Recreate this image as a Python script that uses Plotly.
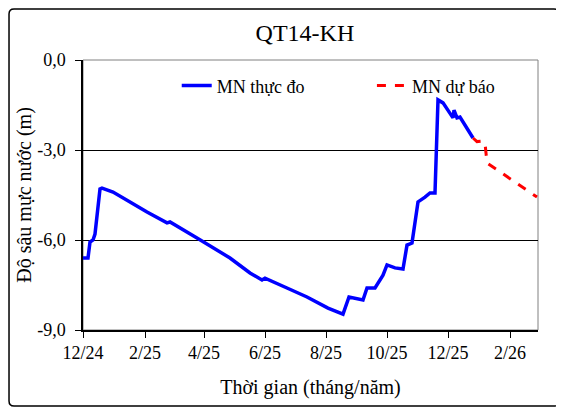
import plotly.graph_objects as go

# measured groundwater depth (m)
obs_dates = [
    "2024-12-01", "2024-12-06", "2024-12-08", "2024-12-11", "2024-12-13",
    "2024-12-16", "2024-12-18", "2024-12-20", "2024-12-31", "2025-01-17",
    "2025-02-03", "2025-02-23", "2025-02-26", "2025-03-25", "2025-04-27",
    "2025-05-17", "2025-05-29", "2025-06-01", "2025-06-09", "2025-06-23",
    "2025-07-13", "2025-08-03", "2025-08-18", "2025-08-24", "2025-09-07",
    "2025-09-11", "2025-09-19", "2025-09-27", "2025-10-01", "2025-10-09",
    "2025-10-17", "2025-10-21", "2025-10-26", "2025-10-29", "2025-11-01",
    "2025-11-08", "2025-11-13", "2025-11-18", "2025-11-21", "2025-11-26",
    "2025-12-06", "2025-12-07", "2025-12-10", "2025-12-13", "2025-12-26",
]
obs_values = [
    -6.6, -6.6, -6.07, -6.0, -5.8,
    -4.9, -4.3, -4.27, -4.4, -4.73,
    -5.07, -5.43, -5.4, -5.93, -6.6,
    -7.1, -7.33, -7.27, -7.4, -7.6,
    -7.9, -8.27, -8.47, -7.9, -8.0,
    -7.6, -7.6, -7.17, -6.83, -6.93,
    -6.97, -6.17, -6.1, -5.4, -4.73,
    -4.57, -4.43, -4.43, -1.33, -1.43,
    -1.93, -1.67, -1.93, -1.9, -2.6,
]

# forecast
fc_dates = ["2025-12-26", "2025-12-30", "2026-01-05", "2026-01-07",
            "2026-01-09", "2026-01-22", "2026-02-11", "2026-02-28"]
fc_values = [-2.6, -2.72, -2.7, -2.77, -3.43, -3.73, -4.17, -4.57]

x_tickvals = ["2024-12-01", "2025-02-01", "2025-04-01", "2025-06-01",
              "2025-08-01", "2025-10-01", "2025-12-01", "2026-02-01"]
x_ticktext = ["12/24", "2/25", "4/25", "6/25", "8/25", "10/25", "12/25", "2/26"]
y_tickvals = [0, -3, -6, -9]
y_ticktext = ["0,0", "-3,0", "-6,0", "-9,0"]

FONT = "Liberation Serif"


def _font(size):
    return dict(family=FONT, size=size, color="black")


fig = go.Figure()

fig.add_trace(go.Scatter(
    x=obs_dates, y=obs_values, mode="lines", name="MN thực đo",
    line=dict(color="#0000FF", width=3.5), legend="legend",
))
fig.add_trace(go.Scatter(
    x=fc_dates, y=fc_values, mode="lines", name="MN dự báo",
    line=dict(color="#FF0000", width=3, dash="dash"), legend="legend2",
))

# plot area border (gray top/right)
fig.add_shape(type="rect", xref="paper", yref="paper", x0=0, x1=1, y0=0, y1=1,
              line=dict(color="#808080", width=1), layer="below")

# outer chart frame, slightly rounded
x0, x1, y0, y1 = -0.1626, 1.0462, -0.2815, 1.1889
rx, ry = 0.011, 0.0185
frame = (f"M{x0+rx},{y1} L{x1-rx},{y1} Q{x1},{y1} {x1},{y1-ry} "
         f"L{x1},{y0+ry} Q{x1},{y0} {x1-rx},{y0} L{x0+rx},{y0} "
         f"Q{x0},{y0} {x0},{y0+ry} L{x0},{y1-ry} Q{x0},{y1} {x0+rx},{y1} Z")
fig.add_shape(type="path", xref="paper", yref="paper", path=frame,
              line=dict(color="black", width=1.5))

legend_style = dict(orientation="h", xanchor="left", y=0.904, yanchor="middle",
                    bgcolor="rgba(0,0,0,0)", font=_font(18))

fig.update_layout(
    width=556, height=403,
    paper_bgcolor="white", plot_bgcolor="white",
    font=_font(18),
    title=dict(text="QT14-KH", x=0.534, xanchor="center", y=0.938, yanchor="middle",
               font=_font(24)),
    margin=dict(l=75, r=26, t=52, b=81),
    showlegend=True,
    legend=dict(x=0.206, **legend_style),
    legend2=dict(x=0.635, **legend_style),
)

fig.update_xaxes(
    range=["2024-12-01", "2026-03-01"], tickvals=x_tickvals, ticktext=x_ticktext,
    showgrid=False, showline=True, linecolor="black", linewidth=1.5,
    ticks="outside", ticklen=6, tickcolor="black", tickfont=_font(18),
    title=dict(text="Thời gian (tháng/năm)", font=_font(20), standoff=18),
    zeroline=False,
)
fig.update_yaxes(
    range=[-9, 0], tickvals=y_tickvals, ticktext=y_ticktext,
    showgrid=True, gridcolor="black", gridwidth=1,
    showline=True, linecolor="black", linewidth=1.5,
    ticks="outside", ticklen=6, tickcolor="black", tickfont=_font(18),
    ticklabelstandoff=6,
    title=dict(text="Độ sâu mực nước (m)", font=_font(20), standoff=0),
    zeroline=False,
)

fig.write_html("out.html")
